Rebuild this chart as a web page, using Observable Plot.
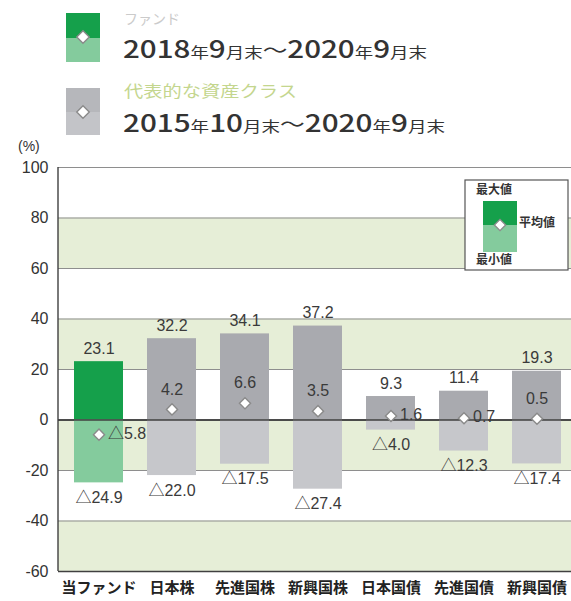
<!DOCTYPE html>
<html>
<head>
<meta charset="utf-8">
<script src="https://cdn.jsdelivr.net/npm/d3@7"></script>
<script src="https://cdn.jsdelivr.net/npm/@observablehq/plot@0.6"></script>
<style>
  html, body { margin: 0; padding: 0; background: #fff; overflow: hidden; }
  #chart { position: relative; width: 571px; height: 601px; }
</style>
</head>
<body>
<div id="chart"></div>
<script>
const categories = ["当ファンド", "日本株", "先進国株", "新興国株", "日本国債", "先進国債", "新興国債"];
const maxValues  = [23.1, 32.2, 34.1, 37.2, 9.3, 11.4, 19.3];
const meanValues = [-5.8, 4.2, 6.6, 3.5, 1.6, 0.7, 0.5];
const minValues  = [-24.9, -22.0, -17.5, -27.4, -4.0, -12.3, -17.4];
const yTicks = [-60, -40, -20, 0, 20, 40, 60, 80, 100];

const legendFundLabel = "ファンド";
const legendFundPeriod = [["2018", "d"], ["年", "c"], ["9", "d"], ["月末", "c"], ["～", "t"], ["2020", "d"], ["年", "c"], ["9", "d"], ["月末", "c"]];
const legendAssetLabel = "代表的な資産クラス";
const legendAssetPeriod = [["2015", "d"], ["年", "c"], ["10", "d"], ["月末", "c"], ["～", "t"], ["2020", "d"], ["年", "c"], ["9", "d"], ["月末", "c"]];
const innerLegend = { max: "最大値", mean: "平均値", min: "最小値" };
const unitLabel = "(%)";

const data = categories.map((c, i) => ({
  cat: c, max: maxValues[i], mean: meanValues[i], min: minValues[i], fund: i === 0
}));
const bands = [];
for (let i = 0; i + 1 < yTicks.length; i++) {
  if (i % 2 === 0) bands.push({ lo: yTicks[i], hi: yTicks[i + 1] });
}
const fmt = v => (v < 0 ? "△" + Math.abs(v).toFixed(1) : v.toFixed(1));
const meanRight = d => d.mean < 0 || d.max < 15;

const FUND_TOP = "#15a04b", FUND_BOT = "#84cb9d";
const GRAY_TOP = "#a9aaaf", GRAY_BOT = "#c6c7cb";
const BAND = "#e6eed7";
const TXT = "#3a3a3a";

const chart = Plot.plot({
  width: 571,
  height: 601,
  marginTop: 167,
  marginBottom: 30,
  marginLeft: 58,
  marginRight: 0,
  style: { fontFamily: "'Liberation Sans', 'Noto Sans CJK JP', sans-serif", background: "#fff" },
  x: { domain: categories, range: [60.25, 574.75], paddingInner: 0.333, paddingOuter: 0.1667, label: null },
  y: { domain: [-60, 100], label: null },
  marks: [
    Plot.rect(bands, { y1: "lo", y2: "hi", fill: BAND }),
    Plot.ruleY(yTicks, { stroke: d => (d === 0 || d === -60 ? "#404040" : "#8e8e8e"), strokeWidth: d => (d === 0 || d === -60 ? 1.4 : 1) }),
    Plot.barY(data, { x: "cat", y1: 0, y2: "max", fill: d => (d.fund ? FUND_TOP : GRAY_TOP) }),
    Plot.barY(data, { x: "cat", y1: "min", y2: 0, fill: d => (d.fund ? FUND_BOT : GRAY_BOT) }),
    Plot.ruleY([0], { stroke: "#404040", strokeWidth: 1.4 }),
    Plot.dot(data, { x: "cat", y: "mean", symbol: "diamond2", r: 5, fill: "white", stroke: "#8a8a8a", strokeWidth: 1.4 }),
    Plot.text(data, { x: "cat", y: "max", text: d => fmt(d.max), dy: -13, fontSize: 16, fill: TXT }),
    Plot.text(data, { x: "cat", y: "min", text: d => fmt(d.min), dy: 15, fontSize: 16, fill: TXT }),
    Plot.text(data.filter(d => !meanRight(d)), { x: "cat", y: "mean", text: d => fmt(d.mean), dy: -20, fontSize: 16, fill: TXT }),
    Plot.text(data.filter(meanRight), { x: "cat", y: "mean", text: d => fmt(d.mean), dx: 9, dy: -1, textAnchor: "start", fontSize: 16, fill: TXT }),
    Plot.axisY({ ticks: yTicks, tickSize: 0, tickPadding: 10, fontSize: 16, tickFormat: d => String(d), fill: "#333", label: null }),
    Plot.axisX({ tickSize: 0, tickPadding: 11, fontSize: 15, fontWeight: "bold", fill: "#222", fontFamily: "'Noto Sans CJK JP', sans-serif", label: null })
  ]
});

document.getElementById("chart").appendChild(chart);

const ys = chart.scale("y");
const svg = d3.select(chart);
// left axis line
svg.append("line")
  .attr("x1", 58).attr("x2", 58)
  .attr("y1", ys.apply(100)).attr("y2", ys.apply(-60))
  .attr("stroke", "#404040").attr("stroke-width", 1.4);

function diamond(g, cx, cy, r) {
  const s = r * 1.25;
  g.append("path")
    .attr("d", `M${cx},${cy - s}L${cx + s},${cy}L${cx},${cy + s}L${cx - s},${cy}Z`)
    .attr("fill", "#fff").attr("stroke", "#8a8a8a").attr("stroke-width", 1.4);
}

// inner legend
const lg = svg.append("g").attr("text-anchor", "start");
lg.append("rect").attr("x", 465).attr("y", 180).attr("width", 103).attr("height", 90)
  .attr("fill", "#fff").attr("stroke", "#555").attr("stroke-width", 1.2);
lg.append("rect").attr("x", 483).attr("y", 201).attr("width", 34).attr("height", 24).attr("fill", FUND_TOP);
lg.append("rect").attr("x", 483).attr("y", 225).attr("width", 34).attr("height", 27).attr("fill", FUND_BOT);
diamond(lg, 500, 225, 4.5);
const ltxt = (t, x, y, anchor) => lg.append("text").text(t).attr("x", x).attr("y", y)
  .attr("text-anchor", anchor).attr("dominant-baseline", "middle")
  .attr("font-family", "'Noto Sans CJK JP', sans-serif").attr("font-size", 12).attr("font-weight", "bold").attr("fill", "#333");
ltxt(innerLegend.max, 494, 191, "middle");
ltxt(innerLegend.mean, 519, 224, "start");
ltxt(innerLegend.min, 494, 261, "middle");

// top legend
const tg = svg.append("g").attr("text-anchor", "start");
tg.append("rect").attr("x", 66).attr("y", 13).attr("width", 34).attr("height", 25).attr("fill", FUND_TOP);
tg.append("rect").attr("x", 66).attr("y", 38).attr("width", 34).attr("height", 24).attr("fill", FUND_BOT);
diamond(tg, 83, 37, 5);
tg.append("rect").attr("x", 66).attr("y", 88).attr("width", 34).attr("height", 24).attr("fill", "#b6b7bb");
tg.append("rect").attr("x", 66).attr("y", 112).attr("width", 34).attr("height", 23).attr("fill", "#c3c4c8");
diamond(tg, 83, 112, 5);

function periodText(parts, x, y, len) {
  const t = tg.append("text").attr("x", x).attr("y", y).attr("text-anchor", "start")
    .attr("font-family", "'Noto Sans CJK JP', sans-serif").attr("fill", "#333")
    .attr("textLength", len).attr("lengthAdjust", "spacingAndGlyphs");
  parts.forEach(([s, k]) => {
    t.append("tspan").text(s)
      .attr("font-size", k === "d" ? 24 : k === "c" ? 15 : 20)
      .attr("font-weight", k === "d" ? 500 : 400);
  });
}
tg.append("text").text(legendFundLabel).attr("x", 124).attr("y", 24).attr("text-anchor", "start")
  .attr("font-family", "'Noto Sans CJK JP', sans-serif").attr("font-size", 14).attr("fill", "#cbcbcb");
periodText(legendFundPeriod, 123, 58, 304);
tg.append("text").text(legendAssetLabel).attr("x", 124).attr("y", 97).attr("text-anchor", "start")
  .attr("font-family", "'Noto Sans CJK JP', sans-serif").attr("font-size", 16).attr("fill", "#c4d68e")
  .attr("textLength", 173).attr("lengthAdjust", "spacingAndGlyphs");
periodText(legendAssetPeriod, 123, 132, 322);
tg.append("text").text(unitLabel).attr("x", 18).attr("y", 151).attr("text-anchor", "start")
  .attr("font-family", "'Liberation Sans', sans-serif").attr("font-size", 14).attr("fill", "#333");
</script>
</body>
</html>
